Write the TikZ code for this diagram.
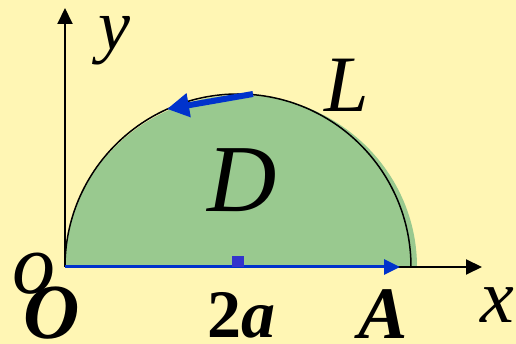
\documentclass[tikz,border=0pt]{standalone}
\usepackage{fontspec}
\setmainfont{Liberation Serif}
\usepackage{tikz}
\usetikzlibrary{arrows.meta}
\definecolor{bgyellow}{HTML}{FFF6B4}
\definecolor{regiongreen}{HTML}{99C98F}
\definecolor{pathblue}{HTML}{0033CC}
\definecolor{markblue}{HTML}{3333CC}
\tikzset{
  lab/.style={font=\fontsize{#1}{#1}\selectfont\itshape, inner sep=0pt, anchor=base},
  blab/.style={font=\fontsize{#1}{#1}\selectfont\bfseries\itshape, inner sep=0pt, anchor=base}
}

\begin{document}
\begin{tikzpicture}[x=1pt, y=-1pt, >={Triangle[length=16pt, width=15pt]}]
        % Background (fixes the size of the picture)
        \fill[bgyellow] (0,0) rectangle (516,344);
        \coordinate (O) at (65,267);
        \coordinate (A) at (400,267);
        \coordinate (xend) at (482,267);
        \coordinate (yend) at (65,8);
        \coordinate (mid) at (238,262);
        \coordinate (arcstart) at (253,94);
        \coordinate (arcend) at (167,109);
        % Region D (green half disc)
        \fill[regiongreen] (O) arc[start angle=180, end angle=360, x radius=176, y radius=172] -- cycle;
        % Boundary L
        \draw[line width=1.5pt] (O) arc[start angle=180, end angle=360, radius=173];
        % Axes
        \draw[->, line width=2pt] (O) -- (xend);
        \draw[->, line width=2pt] (O) -- (yend);
        % Segment OA and orientation of L
        \draw[->, pathblue, line width=3pt] (O) -- (A);
        \fill[markblue] ([shift={(-6,-6)}]mid) rectangle ([shift={(6,5)}]mid);
        \draw[-{Triangle[length=22pt, width=23pt]}, pathblue, line width=6pt] (arcstart) -- (arcend);
        % Labels
        \node[lab=72] (ylab) at (114,50) {y};
        \node[lab=80] (Llab) at (347,112) {L};
        \node[lab=96] (Dlab) at (242,212) {D};
        \node[lab=76] (xlab) at (497,322) {x};
        \node[lab=86] (olab) at (34,294) {o};
        \node[blab=78] (Olab) at (52,338) {O};
        \node[font=\fontsize{68}{68}\selectfont\bfseries, inner sep=0pt, anchor=base] (twoa) at (241,337) {2\textit{a}};
        \node[blab=74] (Alab) at (383,338) {A};
      \end{tikzpicture}
\end{document}
